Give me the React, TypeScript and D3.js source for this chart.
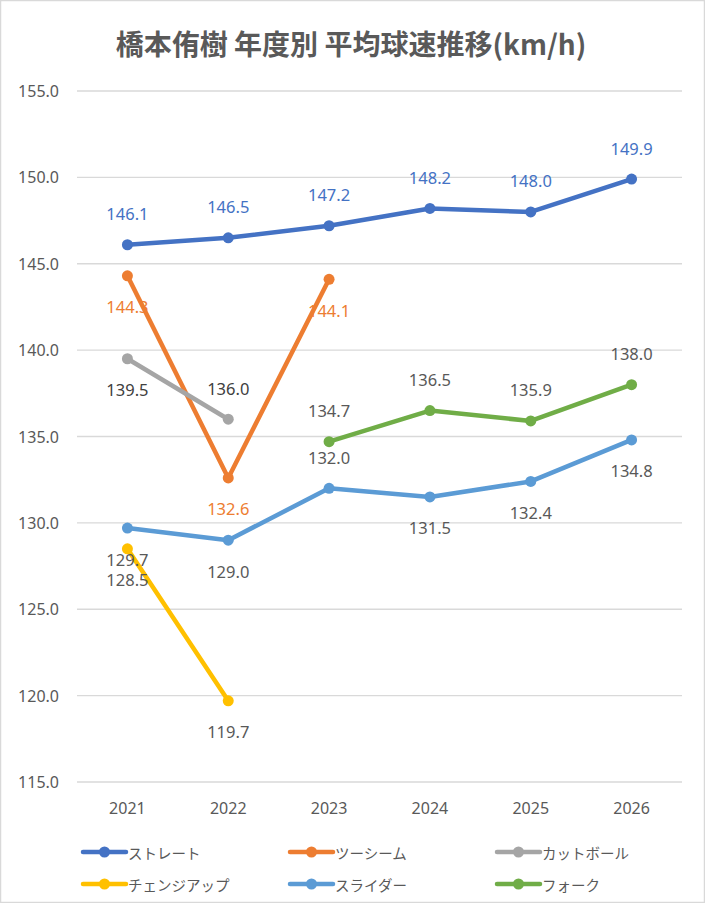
import React from "react";
import * as d3 from "d3";

const title = "橋本侑樹 年度別 平均球速推移(km/h)";
const years = ["2021", "2022", "2023", "2024", "2025", "2026"];
const yTicks = [115, 120, 125, 130, 135, 140, 145, 150, 155];

const seriesNames = ["ストレート", "ツーシーム", "カットボール", "チェンジアップ", "スライダー", "フォーク"];
const straight = [146.1, 146.5, 147.2, 148.2, 148.0, 149.9];
const twoSeam = [144.3, 132.6, 144.1, null, null, null];
const cutter = [139.5, 136.0, null, null, null, null];
const changeup = [128.5, 119.7, null, null, null, null];
const slider = [129.7, 129.0, 132.0, 131.5, 132.4, 134.8];
const fork = [null, null, 134.7, 136.5, 135.9, 138.0];

const seriesValues: (number | null)[][] = [straight, twoSeam, cutter, changeup, slider, fork];
const seriesColors = ["#4472C4", "#ED7D31", "#A5A5A5", "#FFC000", "#5B9BD5", "#70AD47"];
const labelColors = ["#4472C4", "#ED7D31", "#404040", "#595959", "#595959", "#595959"];
// label placement: 1 = above, -1 = below
const labelSides = [
  [1, 1, 1, 1, 1, 1],
  [-1, -1, -1, -1, -1, -1],
  [-1, 1, 1, 1, 1, 1],
  [-1, -1, -1, -1, -1, -1],
  [-1, -1, 1, -1, -1, -1],
  [1, 1, 1, 1, 1, 1],
];

const W = 705;
const H = 903;
const plotLeft = 77;
const plotRight = 682;
const plotTop = 91;
const plotBottom = 782;

const numFont = "'Noto Sans', 'Open Sans', sans-serif";
const jpFont = "'Noto Sans CJK JP', 'Noto Sans', sans-serif";

export default function App() {
  const x = d3.scaleBand<string>().domain(years).range([plotLeft, plotRight]);
  const y = d3.scaleLinear().domain([115, 155]).range([plotBottom, plotTop]);
  const cx = (i: number) => (x(years[i]) as number) + x.bandwidth() / 2;

  const line = d3
    .line<number | null>()
    .defined((d) => d !== null)
    .x((_, i) => cx(i))
    .y((d) => y(d as number));

  const legendCols = [83, 290, 497];
  const legendRows = [852, 884];

  return (
    <svg
      width={W}
      height={H}
      style={{ position: "absolute", left: 0, top: 0, background: "#fff" }}
    >
      <rect x={0.5} y={0.5} width={W - 1} height={H - 1} fill="#fff" stroke="#d9d9d9" strokeWidth={1.5} />
      <text
        x={351}
        y={43}
        textAnchor="middle"
        dominantBaseline="central"
        fontFamily={jpFont}
        fontWeight="bold"
        fontSize={28}
        fill="#595959"
      >
        {title}
      </text>

      {yTicks.map((t) => (
        <g key={t}>
          <line x1={plotLeft} x2={plotRight} y1={y(t)} y2={y(t)} stroke="#d9d9d9" strokeWidth={1.3} />
          <text
            x={59}
            y={y(t)}
            textAnchor="end"
            dominantBaseline="central"
            fontFamily={numFont}
            fontSize={16}
            fill="#595959"
          >
            {t.toFixed(1)}
          </text>
        </g>
      ))}

      {years.map((yr, i) => (
        <text
          key={yr}
          x={cx(i)}
          y={808}
          textAnchor="middle"
          dominantBaseline="central"
          fontFamily={numFont}
          fontSize={16}
          fill="#595959"
        >
          {yr}
        </text>
      ))}

      {seriesValues.map((vals, s) => (
        <g key={s}>
          <path d={line(vals) || ""} fill="none" stroke={seriesColors[s]} strokeWidth={4.5} strokeLinejoin="round" strokeLinecap="round" />
          {vals.map((v, i) =>
            v === null ? null : <circle key={i} cx={cx(i)} cy={y(v)} r={5.5} fill={seriesColors[s]} />
          )}
        </g>
      ))}

      {seriesValues.map((vals, s) => (
        <g key={"l" + s}>
          {vals.map((v, i) =>
            v === null ? null : (
              <text
                key={i}
                x={cx(i)}
                y={y(v) - labelSides[s][i] * 31}
                textAnchor="middle"
                dominantBaseline="central"
                fontFamily={numFont}
                fontSize={16.5}
                fill={labelColors[s]}
              >
                {v.toFixed(1)}
              </text>
            )
          )}
        </g>
      ))}

      {seriesNames.map((name, s) => {
        const lx = legendCols[s % 3];
        const ly = legendRows[Math.floor(s / 3)];
        return (
          <g key={"lg" + s}>
            <line x1={lx} x2={lx + 43} y1={ly} y2={ly} stroke={seriesColors[s]} strokeWidth={4.5} strokeLinecap="round" />
            <circle cx={lx + 21.5} cy={ly} r={5.5} fill={seriesColors[s]} />
            <text
              x={lx + 45}
              y={ly}
              dominantBaseline="central"
              fontFamily={jpFont}
              fontSize={14.5}
              fill="#595959"
            >
              {name}
            </text>
          </g>
        );
      })}
    </svg>
  );
}
